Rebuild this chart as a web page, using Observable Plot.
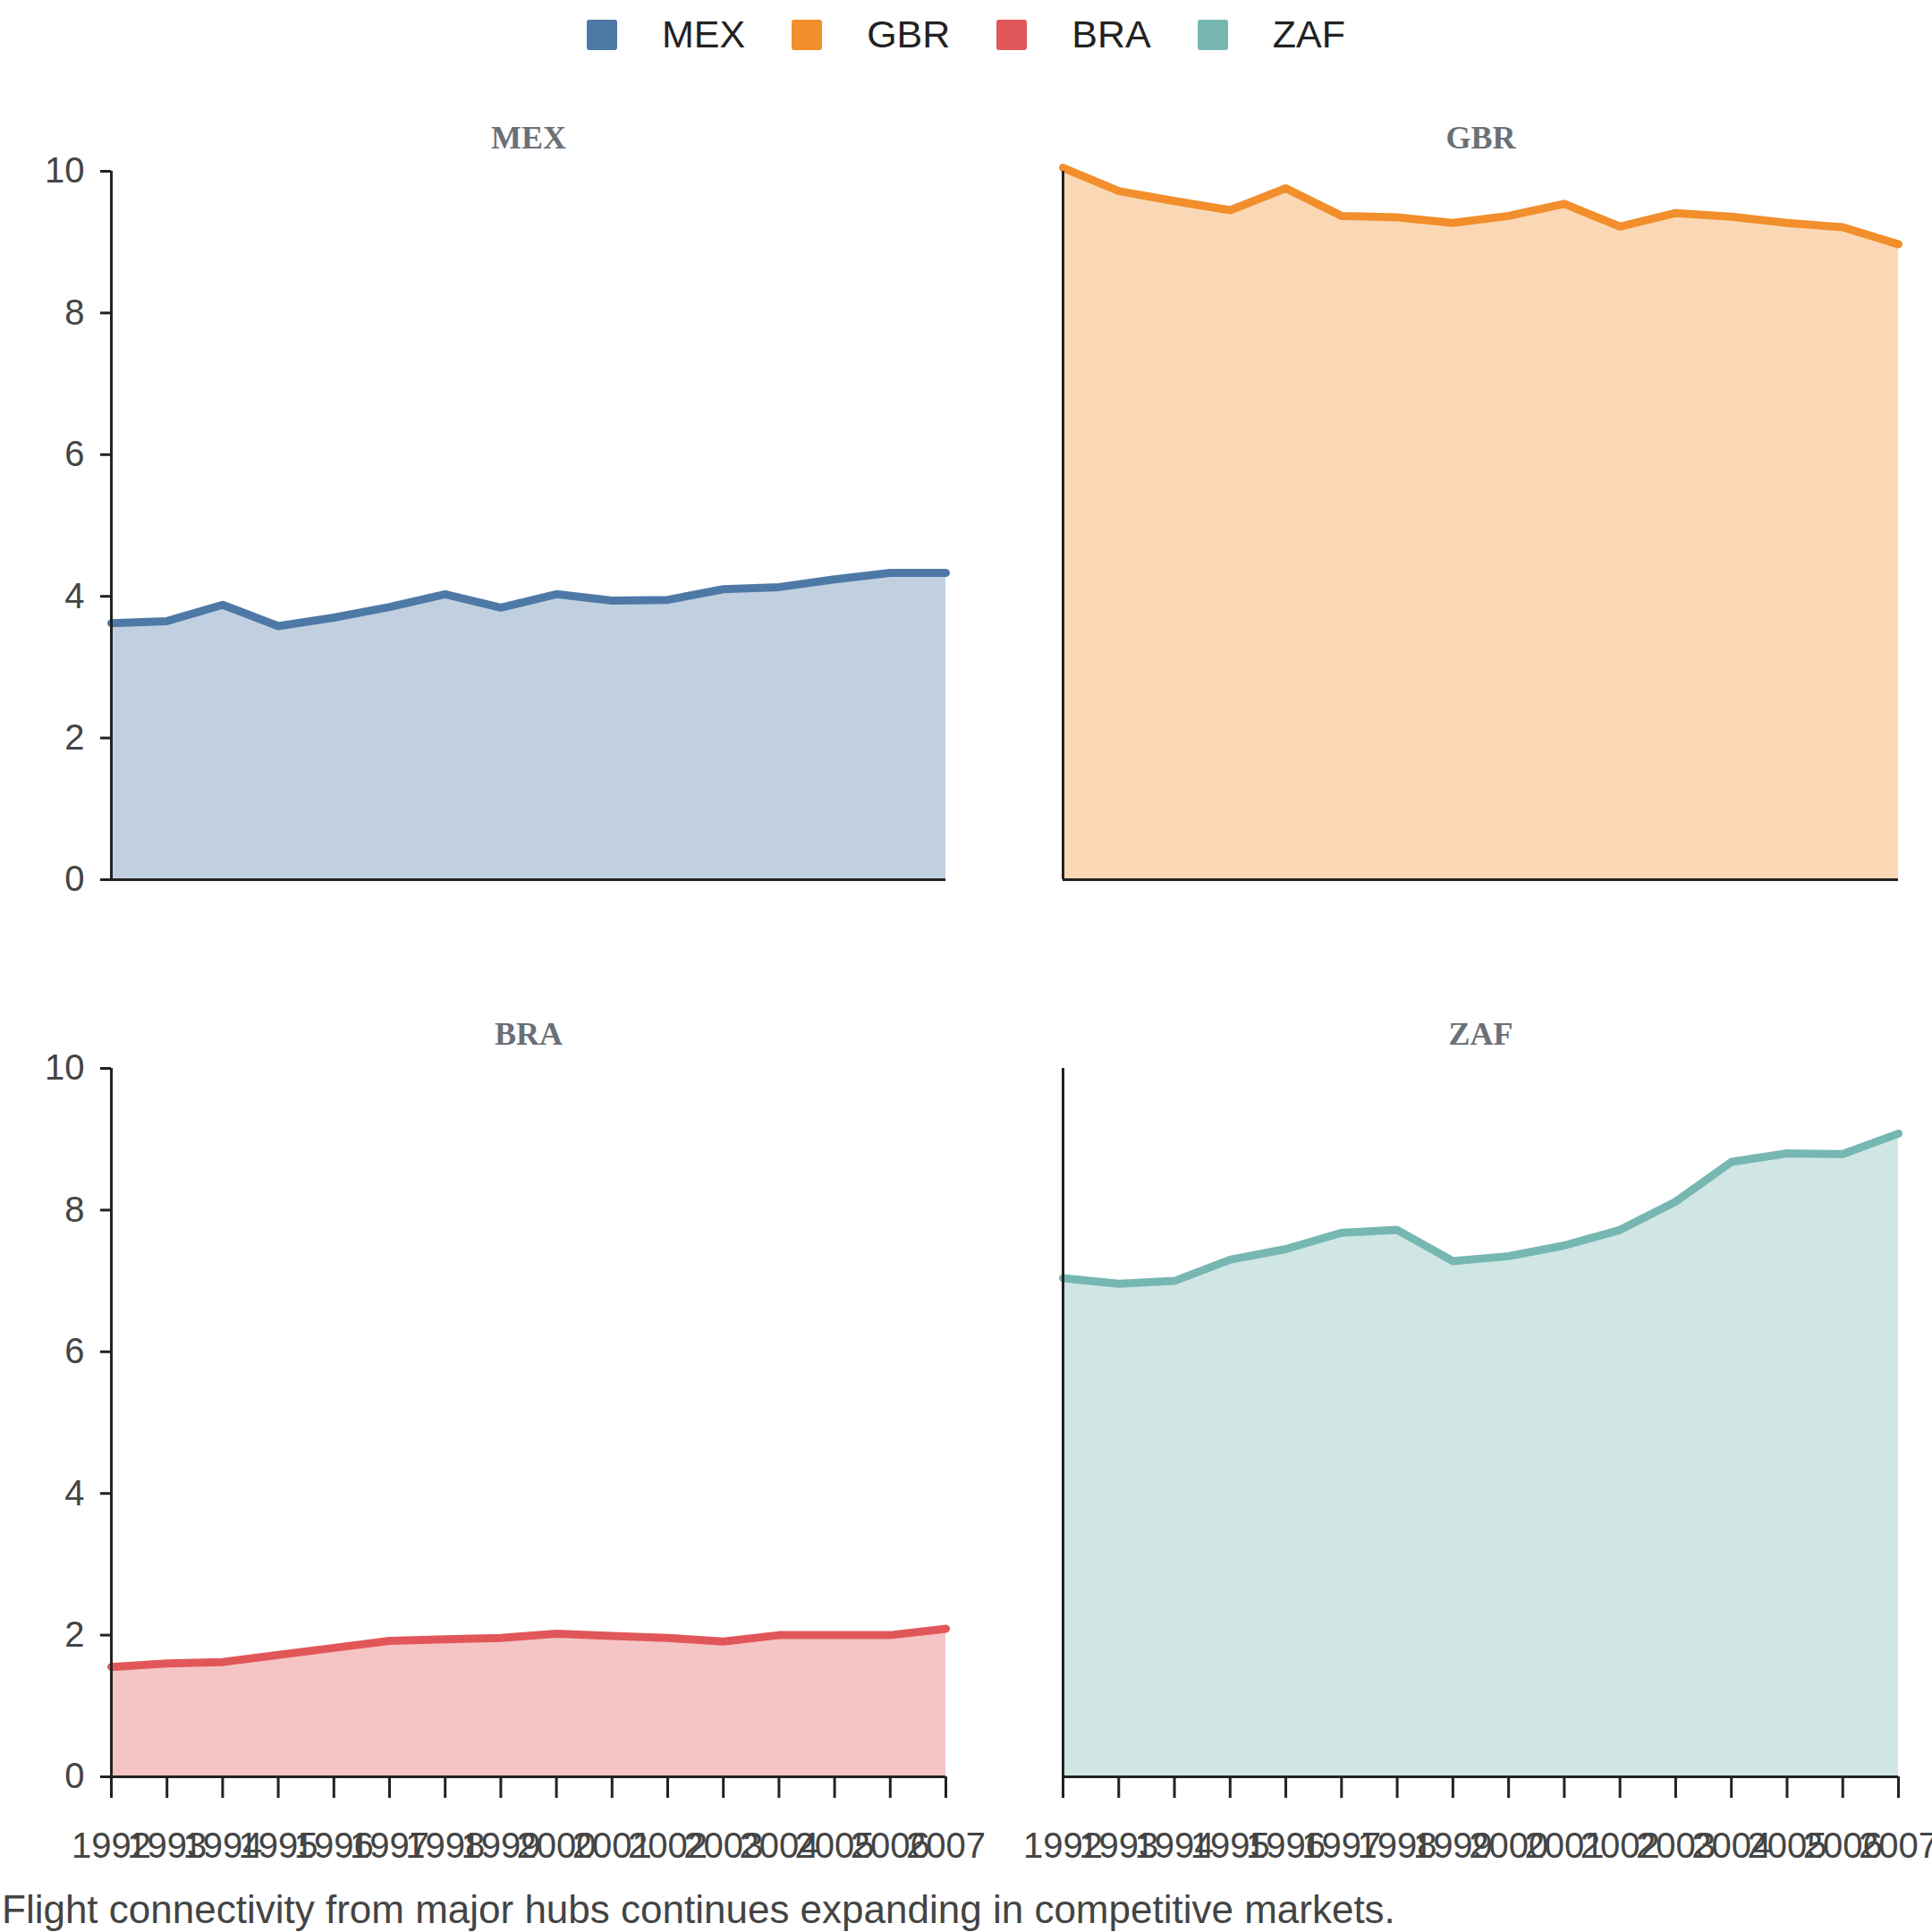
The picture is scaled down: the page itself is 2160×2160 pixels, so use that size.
<!DOCTYPE html>
<html><head><meta charset="utf-8">
<script src="https://cdn.jsdelivr.net/npm/d3@7"></script>
<script src="https://cdn.jsdelivr.net/npm/@observablehq/plot@0.6"></script>
<style>
body{margin:0;background:#fff;font-family:Arial,"Liberation Sans",sans-serif;}
#root{position:relative;width:2160px;height:2160px;}
.p{position:absolute;}
#legend{position:absolute;top:14px;left:0;width:2160px;display:flex;justify-content:center;gap:0;font-size:43px;color:#222;}
.li{display:flex;align-items:center;margin:0 26px;}
.sw{width:34px;height:34px;border-radius:3px;margin-right:50px;}
#cap{position:absolute;left:2px;top:2110px;font-size:44px;color:#444;}
</style></head><body><div id="root">
<div id="legend"></div>
<div id="cap">Flight connectivity from major hubs continues expanding in competitive markets.</div>
</div>
<script>
const years=[1992,1993,1994,1995,1996,1997,1998,1999,2000,2001,2002,2003,2004,2005,2006,2007];
const countries=["MEX","GBR","BRA","ZAF"];
const colors=["#4e79a7","#f28e2b","#e15759","#76b7b2"];
const mex=[3.62,3.65,3.88,3.58,3.70,3.85,4.03,3.84,4.03,3.94,3.95,4.10,4.13,4.24,4.33,4.33];
const gbr=[10.05,9.72,9.58,9.45,9.76,9.37,9.35,9.27,9.37,9.54,9.22,9.41,9.36,9.27,9.21,8.97];
const bra=[1.55,1.60,1.62,1.72,1.82,1.92,1.94,1.96,2.02,1.99,1.96,1.91,2.00,2.00,2.00,2.09];
const zaf=[7.04,6.96,7.00,7.30,7.45,7.68,7.72,7.28,7.35,7.50,7.72,8.12,8.68,8.80,8.79,9.08];
const series=[mex,gbr,bra,zaf];
const root=document.getElementById("root");
const leg=document.getElementById("legend");
countries.forEach((c,i)=>{leg.insertAdjacentHTML("beforeend",`<div class="li"><div class="sw" style="background:${colors[i]}"></div>${c}</div>`);});
const pos=[{left:0,top:60,ml:124,mr:23,mt:131,h:1000,mb:77,yl:true,xl:false},
{left:1080,top:60,ml:108,mr:38,mt:131,h:1000,mb:77,yl:false,xl:false},
{left:0,top:1090,ml:124,mr:23,mt:104,h:1000,mb:104,yl:true,xl:true},
{left:1080,top:1090,ml:108,mr:38,mt:104,h:1000,mb:104,yl:false,xl:true}];
countries.forEach((c,i)=>{
  const p=pos[i];
  const data=years.map((y,j)=>({year:y,v:series[i][j]}));
  const marks=[
    Plot.areaY(data,{x:"year",y:"v",fill:colors[i],fillOpacity:0.35}),
    Plot.lineY(data,{x:"year",y:"v",stroke:colors[i],strokeWidth:9}),
    Plot.ruleY([0],{stroke:"#222",strokeWidth:3}),
    Plot.ruleX([1992],{stroke:"#222",strokeWidth:3}),
    Plot.text([c],{frameAnchor:"top",dy:-(p.mt-(i<2?80:52)),text:d=>d,fontFamily:"Liberation Serif,serif",fontWeight:"bold",fontSize:36,fill:"#6b7077"})
  ];
  if(p.yl) marks.push(Plot.axisY({ticks:[0,2,4,6,8,10],label:null,tickSize:12,tickPadding:18,fontSize:40,stroke:"#222",strokeWidth:3,color:"#444"}));
  if(p.xl) marks.push(Plot.axisX({ticks:years,label:null,tickFormat:d=>String(d),tickSize:24,tickPadding:38,fontSize:40,stroke:"#222",strokeWidth:3,color:"#444"}));
  const svg=Plot.plot({width:1080,height:p.h,marginLeft:p.ml,marginRight:p.mr,marginTop:p.mt,marginBottom:p.mb,
    style:{fontFamily:"Arial, Liberation Sans, sans-serif",background:"transparent",overflow:"visible"},
    x:{domain:[1992,2007],axis:null},y:{domain:[0,10],axis:null},marks});
  const d=document.createElement("div");d.className="p";d.style.left=p.left+"px";d.style.top=p.top+"px";
  d.appendChild(svg);root.appendChild(d);
});
</script></body></html>
